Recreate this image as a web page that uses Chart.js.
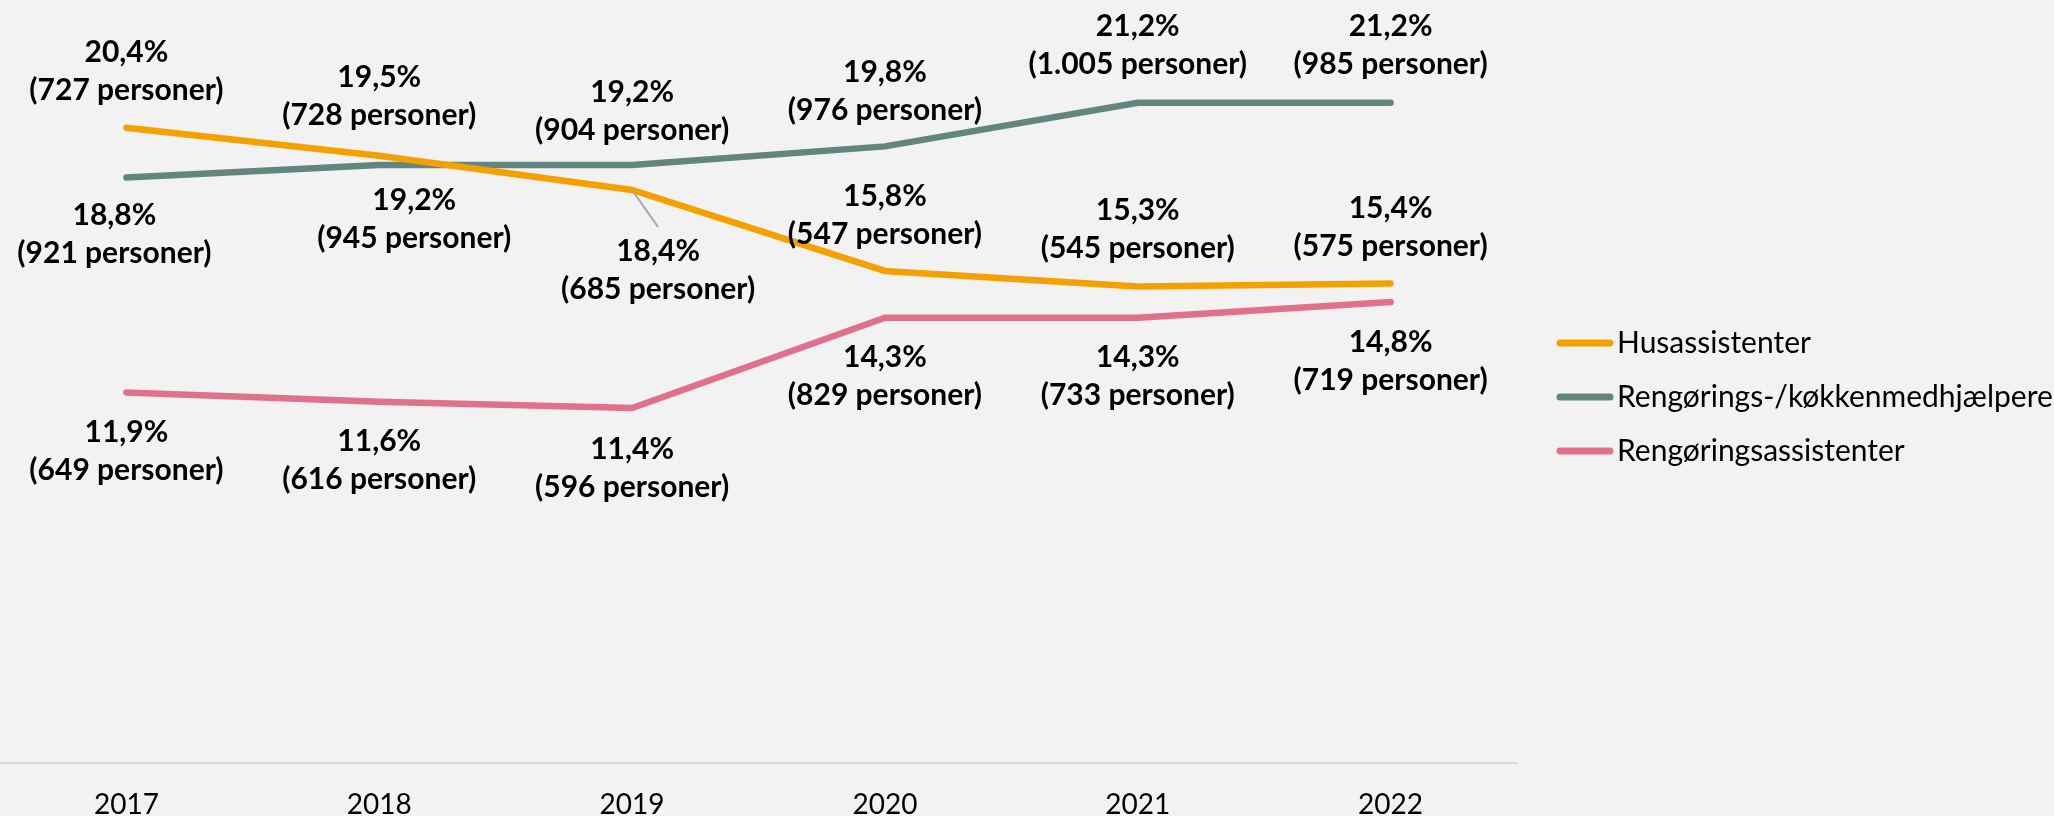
<!DOCTYPE html>
<html>
<head>
<meta charset="utf-8">
<script src="https://cdn.jsdelivr.net/npm/chart.js@4.4.1/dist/chart.umd.min.js"></script>
<style>
  html, body { margin: 0; padding: 0; background: #f2f2f2; }
  canvas { display: block; }
</style>
</head>
<body>
<canvas id="myChart" width="2054" height="816"></canvas>
<script>
// Data
const years = ['2017', '2018', '2019', '2020', '2021', '2022'];
const husPct = [20.4, 19.5, 18.4, 15.8, 15.3, 15.4];
const husPers = [727, 728, 685, 547, 545, 575];
const koekPct = [18.8, 19.2, 19.2, 19.8, 21.2, 21.2];
const koekPers = [921, 945, 904, 976, 1005, 985];
const rengPct = [11.9, 11.6, 11.4, 14.3, 14.3, 14.8];
const rengPers = [649, 616, 596, 829, 733, 719];

// label placement relative to the point: [dx, dy of first line]
const labelPos = [
    [[0, -75], [0, -78], [26, 61], [0, -75], [0, -76], [0, -75]],
    [[-12, 38], [35, 35], [0, -73], [0, -74], [0, -76], [0, -76]],
    [[0, 40], [0, 40], [0, 41], [0, 40], [0, 40], [0, 40]]
];
const persCounts = [husPers, koekPers, rengPers];

function fmtPct(v) {
    return v.toFixed(1).replace('.', ',') + '%';
}
function fmtNum(n) {
    return String(n).replace(/\B(?=(\d{3})+(?!\d))/g, '.');
}

const labelFont = 'bold 30px Lato';
const lineGap = 38;

const dataLabels = {
    id: 'dataLabels',
    afterDatasetsDraw(chart) {
        const ctx = chart.ctx;
        ctx.save();
        ctx.font = labelFont;
        ctx.fillStyle = '#000000';
        ctx.textAlign = 'center';
        ctx.textBaseline = 'middle';
        chart.data.datasets.forEach((ds, i) => {
            const meta = chart.getDatasetMeta(i);
            meta.data.forEach((pt, j) => {
                const [dx, dy] = labelPos[i][j];
                const x = pt.x + dx;
                const y = pt.y + dy;
                // leader line when the label is pushed sideways
                if (i === 0 && j === 2) {
                    ctx.save();
                    ctx.strokeStyle = '#a6a6a6';
                    ctx.lineWidth = 2;
                    ctx.beginPath();
                    ctx.moveTo(pt.x, pt.y);
                    ctx.lineTo(x, y - 24);
                    ctx.stroke();
                    ctx.restore();
                }
                ctx.fillText(fmtPct(ds.data[j]), x, y);
                ctx.fillText('(' + fmtNum(persCounts[i][j]) + ' personer)', x, y + lineGap);
            });
        });
        ctx.restore();
    }
};

// legend on the right
const sideLegend = {
    id: 'sideLegend',
    afterDraw(chart) {
        const ctx = chart.ctx;
        ctx.save();
        ctx.font = '30px Lato';
        ctx.textBaseline = 'middle';
        ctx.textAlign = 'left';
        chart.data.datasets.forEach((ds, i) => {
            const y = 343 + i * 54;
            ctx.strokeStyle = ds.borderColor;
            ctx.lineWidth = 7;
            ctx.lineCap = 'round';
            ctx.beginPath();
            ctx.moveTo(1560, y);
            ctx.lineTo(1610, y);
            ctx.stroke();
            ctx.fillStyle = '#000000';
            ctx.fillText(ds.label, 1617, y);
        });
        ctx.restore();
    }
};

const ctx1 = document.getElementById('myChart').getContext('2d');
const myChart = new Chart(ctx1, {
    type: 'line',
    data: {
        labels: years,
        datasets: [{
            label: 'Husassistenter',
            data: husPct,
            borderColor: '#f4a100',
            borderWidth: 6.5
        }, {
            label: 'Rengørings-/køkkenmedhjælpere',
            data: koekPct,
            borderColor: '#628580',
            borderWidth: 6.5
        }, {
            label: 'Rengøringsassistenter',
            data: rengPct,
            borderColor: '#e0708b',
            borderWidth: 6.5
        }]
    },
    options: {
        responsive: false,
        animation: false,
        layout: { padding: { left: 0, right: 537, top: 0, bottom: -23 } },
        elements: {
            point: { radius: 0, hoverRadius: 0 },
            line: { tension: 0, borderCapStyle: 'round', fill: false }
        },
        plugins: {
            legend: { display: false },
            tooltip: { enabled: false }
        },
        scales: {
            x: {
                offset: true,
                grid: { display: false },
                border: { display: true, color: '#d9d9d9', width: 2 },
                ticks: {
                    color: '#000000',
                    padding: 20,
                    font: { family: 'Lato', size: 28, lineHeight: 1 }
                }
            },
            y: {
                display: false,
                min: 0,
                max: 24.5
            }
        }
    },
    plugins: [dataLabels, sideLegend]
});
</script>
</body>
</html>
